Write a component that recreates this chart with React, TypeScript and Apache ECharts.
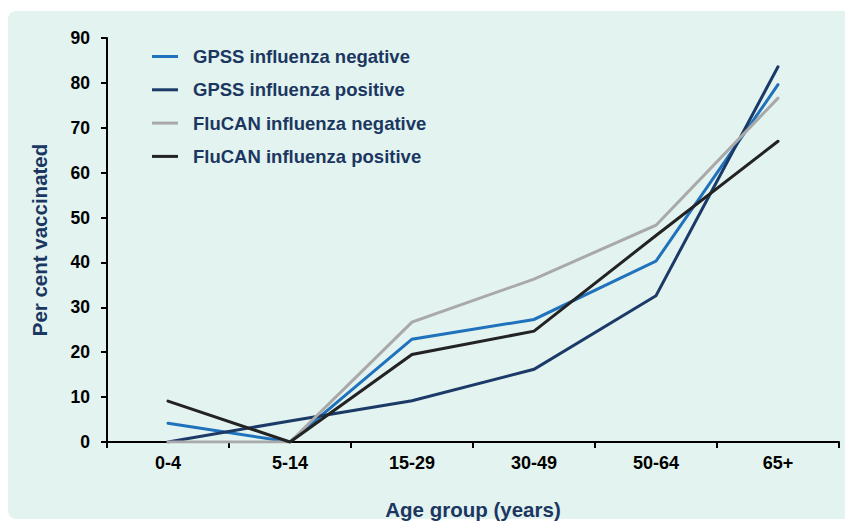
import React, { useEffect, useRef } from "react";
import * as echarts from "echarts";

const categories = ["0-4", "5-14", "15-29", "30-49", "50-64", "65+"];
const gpssNegative = [4.2, 0, 22.9, 27.3, 40.3, 79.6];
const gpssPositive = [0, 4.7, 9.2, 16.2, 32.6, 83.6];
const flucanNegative = [0, 0, 26.7, 36.3, 48.3, 76.6];
const flucanPositive = [9.1, 0, 19.5, 24.7, 46.0, 67.0];
const seriesNames = [
  "GPSS influenza negative",
  "GPSS influenza positive",
  "FluCAN influenza negative",
  "FluCAN influenza positive",
];
const seriesColors = ["#1f72bb", "#1b3a68", "#a9a9a9", "#232323"];

export default function App() {
  const ref = useRef<HTMLDivElement>(null);
  useEffect(() => {
    if (!ref.current) return;
    const chart = echarts.init(ref.current, null, { renderer: "svg" });
    const dataSets = [gpssNegative, gpssPositive, flucanNegative, flucanPositive];
    const navy = "#1b3761";
    const font = "Liberation Sans, Arial, sans-serif";
    chart.setOption({
      animation: false,
      graphic: [
        {
          type: "rect",
          z: -10,
          silent: true,
          shape: { x: 8, y: 11, width: 845, height: 508, r: 8 },
          style: { fill: "#e3f3ef" },
        },
      ],
      legend: {
        orient: "vertical",
        left: 147,
        top: 42,
        itemWidth: 26,
        itemHeight: 3,
        itemGap: 14.3,
        icon: "rect",
        textStyle: {
          color: navy,
          fontWeight: "bold",
          fontSize: 18.5,
          lineHeight: 18,
          fontFamily: font,
          padding: [0, 0, 0, 10],
        },
        data: seriesNames,
      },
      grid: {
        left: 107,
        right: 6,
        top: 38,
        bottom: 79,
        containLabel: false,
        outerBoundsMode: "none",
      },
      xAxis: {
        type: "category",
        data: categories,
        boundaryGap: true,
        axisLine: { lineStyle: { color: "#000", width: 2 } },
        axisTick: { show: true, length: 6, lineStyle: { color: "#000", width: 2 } },
        axisLabel: {
          color: "#000",
          fontWeight: "bold",
          fontSize: 18,
          margin: 12,
          fontFamily: font,
        },
        name: "Age group (years)",
        nameLocation: "middle",
        nameGap: 57,
        nameTextStyle: {
          color: navy,
          fontWeight: "bold",
          fontSize: 20.5,
          fontFamily: font,
        },
      },
      yAxis: {
        type: "value",
        min: 0,
        max: 90,
        interval: 10,
        axisLine: { show: true, lineStyle: { color: "#000", width: 2 } },
        axisTick: { show: true, length: 6, lineStyle: { color: "#000", width: 2 } },
        splitLine: { show: false },
        axisLabel: {
          color: "#000",
          fontWeight: "bold",
          fontSize: 17.5,
          margin: 17,
          fontFamily: font,
        },
        name: "Per cent vaccinated",
        nameLocation: "middle",
        nameGap: 57,
        nameRotate: 90,
        nameTextStyle: {
          color: navy,
          fontWeight: "bold",
          fontSize: 20.5,
          fontFamily: font,
        },
      },
      series: dataSets.map((d, i) => ({
        name: seriesNames[i],
        type: "line",
        data: d,
        showSymbol: false,
        symbol: "none",
        color: seriesColors[i],
        lineStyle: { width: 3, color: seriesColors[i], cap: "round", join: "miter" },
        z: 2 + i,
      })),
    });
    return () => chart.dispose();
  }, []);
  return (
    <div
      ref={ref}
      style={{ position: "absolute", left: 0, top: 0, width: 845, height: 521 }}
    />
  );
}
